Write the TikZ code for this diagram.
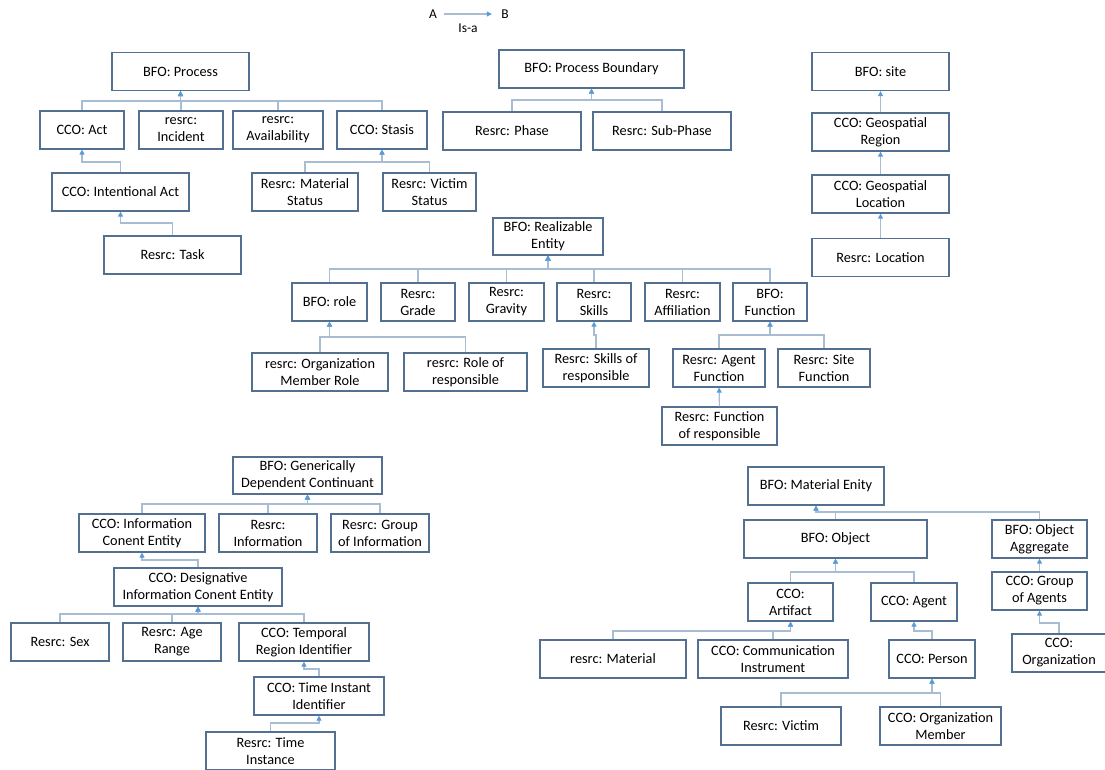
\documentclass[tikz,border=0pt]{standalone}
\usepackage{fontspec}
\setmainfont{Carlito}
\usepackage{tikz}
\usetikzlibrary{arrows.meta}
\definecolor{boxline}{RGB}{84,112,144}
\definecolor{linkline}{RGB}{168,188,210}
\definecolor{tipblue}{RGB}{91,155,213}

\begin{document}
\begin{tikzpicture}[x=1pt, y=-1pt,
    block/.style={draw=boxline, line width=1.2pt, rectangle, minimum height=38pt, align=center, inner sep=1pt, font=\fontsize{14.3}{17}\selectfont},
    isa/.style={draw=linkline, line width=1.1pt, -{Triangle[length=5pt,width=5pt,color=tipblue]}},
    legend/.style={font=\fontsize{13.5}{16}\selectfont}]

    \useasboundingbox (0,0) rectangle (1105,769);
    \clip (0,0) rectangle (1105,769);

    % Legende
    \node[legend] (lega) at (433,14) {A};
    \node[legend] (legb) at (505,14) {B};
    \draw[isa, shorten <=4pt, shorten >=6pt] (lega.east) -- (legb.west);
    \node[legend] (isalabel) at (468,28) {Is-a};

    % Process
    \node[block, minimum width=137pt] (process) at (180.5,71.5) {BFO: Process};
    \node[block, minimum width=84pt] (act) at (82,130) {CCO: Act};
    \node[block, minimum width=84pt] (incident) at (181,130) {resrc:\\Incident};
    \node[block, minimum width=90pt] (availability) at (278,130) {resrc:\\Availability};
    \node[block, minimum width=90pt] (stasis) at (382,130) {CCO: Stasis};
    \node[block, minimum width=137pt] (intact) at (120.5,192) {CCO: Intentional Act};
    \node[block, minimum width=137pt] (task) at (172.5,255) {Resrc: Task};
    \node[block, minimum width=106pt] (matstatus) at (305,192) {Resrc: Material\\Status};
    \node[block, minimum width=93pt] (vicstatus) at (429.5,192) {Resrc: Victim\\Status};

    % Process Boundary
    \node[block, minimum width=185pt] (boundary) at (591.5,69) {BFO: Process Boundary};
    \node[block, minimum width=138pt] (phase) at (512,131) {Resrc: Phase};
    \node[block, minimum width=138pt] (subphase) at (662,131) {Resrc: Sub-Phase};

    % Site
    \node[block, minimum width=137pt] (site) at (880.5,71.5) {BFO: site};
    \node[block, minimum width=137pt] (georegion) at (880.5,132) {CCO: Geospatial\\Region};
    \node[block, minimum width=137pt] (geolocation) at (880.5,194) {CCO: Geospatial\\Location};
    \node[block, minimum width=137pt] (location) at (880.5,257.5) {Resrc: Location};

    % Realizable Entity
    \node[block, minimum width=110pt, minimum height=37pt] (realizable) at (548,236.5) {BFO: Realizable\\Entity};
    \node[block, minimum width=75pt] (role) at (329.5,302) {BFO: role};
    \node[block, minimum width=74pt] (grade) at (418,302) {Resrc:\\Grade};
    \node[block, minimum width=75pt] (gravity) at (506.5,302) {Resrc:\\Gravity};
    \node[block, minimum width=74pt] (skills) at (594,302) {Resrc:\\Skills};
    \node[block, minimum width=75pt] (affiliation) at (682.5,302) {Resrc:\\Affiliation};
    \node[block, minimum width=74pt] (function) at (770,302) {BFO:\\Function};
    \node[block, minimum width=136pt] (orgmemrole) at (320,372) {resrc: Organization\\Member Role};
    \node[block, minimum width=123pt] (roleresp) at (465.5,372) {resrc: Role of\\responsible};
    \node[block, minimum width=106pt] (skillsresp) at (596,368) {Resrc: Skills of\\responsible};
    \node[block, minimum width=92pt] (agentfunc) at (719,368) {Resrc: Agent\\Function};
    \node[block, minimum width=92pt] (sitefunc) at (824,368) {Resrc: Site\\Function};
    \node[block, minimum width=115pt] (funcresp) at (719.5,426) {Resrc: Function\\of responsible};

    % Generically Dependent Continuant
    \node[block, minimum width=149pt, minimum height=37pt] (gdc) at (307.5,475.5) {BFO: Generically\\Dependent Continuant};
    \node[block, minimum width=126pt] (ice) at (142,533) {CCO: Information\\Conent Entity};
    \node[block, minimum width=98pt] (information) at (268,533) {Resrc:\\Information};
    \node[block, minimum width=98pt] (groupinfo) at (380,533) {Resrc: Group\\of Information};
    \node[block, minimum width=168pt] (dice) at (198,587) {CCO: Designative\\Information Conent Entity};
    \node[block, minimum width=98pt] (sex) at (60,642) {Resrc: Sex};
    \node[block, minimum width=98pt] (agerange) at (172,642) {Resrc: Age\\Range};
    \node[block, minimum width=130pt] (tri) at (304,642) {CCO: Temporal\\Region Identifier};
    \node[block, minimum width=130pt] (tii) at (319,696) {CCO: Time Instant\\Identifier};
    \node[block, minimum width=129pt] (timeinst) at (270.5,751) {Resrc: Time\\Instance};

    % Material Entity
    \node[block, minimum width=136pt] (material) at (816,486) {BFO: Material Enity};
    \node[block, minimum width=183pt] (object) at (835.5,539) {BFO: Object};
    \node[block, minimum width=95pt] (objagg) at (1039.5,539) {BFO: Object\\Aggregate};
    \node[block, minimum width=95pt] (groupagents) at (1039.5,591) {CCO: Group\\of Agents};
    \node[block, minimum width=85pt] (artifact) at (790.5,602) {CCO:\\Artifact};
    \node[block, minimum width=86pt] (agent) at (914,602) {CCO: Agent};
    \node[block, minimum width=146pt] (resmaterial) at (613,659) {resrc: Material};
    \node[block, minimum width=150pt] (comminst) at (773,659) {CCO: Communication\\Instrument};
    \node[block, minimum width=86pt] (person) at (932,659) {CCO: Person};
    \node[block, minimum width=120pt] (victim) at (781,726) {Resrc: Victim};
    \node[block, minimum width=121pt] (orgmember) at (940.5,726) {CCO: Organization\\Member};
    \node[block, minimum width=94pt] (organization) at (1059,653) {CCO:\\Organization};

    % Liens Is-a
    \draw[isa] (act.north) -- (act.north |- 0,101) -| (process.south);
    \draw[isa] (incident.north) -- (incident.north |- 0,101) -| (process.south);
    \draw[isa] (availability.north) -- (availability.north |- 0,101) -| (process.south);
    \draw[isa] (stasis.north) -- (stasis.north |- 0,101) -| (process.south);
    \draw[isa] (intact.north) -- (intact.north |- 0,162) -| (act.south);
    \draw[isa] (task.north) -- (task.north |- 0,223) -| (intact.south);
    \draw[isa] (matstatus.north) -- (matstatus.north |- 0,162) -| (stasis.south);
    \draw[isa] (vicstatus.north) -- (vicstatus.north |- 0,162) -| (stasis.south);

    \draw[isa] (phase.north) -- (phase.north |- 0,100) -| (boundary.south);
    \draw[isa] (subphase.north) -- (subphase.north |- 0,100) -| (boundary.south);

    \draw[isa] (georegion) -- (site);
    \draw[isa] (geolocation) -- (georegion);
    \draw[isa] (location) -- (geolocation);

    \draw[isa] (role.north) -- (role.north |- 0,269) -| (realizable.south);
    \draw[isa] (grade.north) -- (grade.north |- 0,269) -| (realizable.south);
    \draw[isa] (gravity.north) -- (gravity.north |- 0,269) -| (realizable.south);
    \draw[isa] (skills.north) -- (skills.north |- 0,269) -| (realizable.south);
    \draw[isa] (affiliation.north) -- (affiliation.north |- 0,269) -| (realizable.south);
    \draw[isa] (function.north) -- (function.north |- 0,269) -| (realizable.south);
    \draw[isa] (orgmemrole.north) -- (orgmemrole.north |- 0,337) -| (role.south);
    \draw[isa] (roleresp.north) -- (roleresp.north |- 0,337) -| (role.south);
    \draw[isa] (skillsresp.north) -- (skillsresp.north |- 0,335) -| (skills.south);
    \draw[isa] (agentfunc.north) -- (agentfunc.north |- 0,335) -| (function.south);
    \draw[isa] (sitefunc.north) -- (sitefunc.north |- 0,335) -| (function.south);
    \draw[isa] (funcresp) -- (agentfunc);

    \draw[isa] (ice.north) -- (ice.north |- 0,504) -| (gdc.south);
    \draw[isa] (information.north) -- (information.north |- 0,504) -| (gdc.south);
    \draw[isa] (groupinfo.north) -- (groupinfo.north |- 0,504) -| (gdc.south);
    \draw[isa] (dice.north) -- (dice.north |- 0,560) -| (ice.south);
    \draw[isa] (sex.north) -- (sex.north |- 0,614) -| (dice.south);
    \draw[isa] (agerange.north) -- (agerange.north |- 0,614) -| (dice.south);
    \draw[isa] (tri.north) -- (tri.north |- 0,614) -| (dice.south);
    \draw[isa] (tii.north) -- (tii.north |- 0,669) -| (tri.south);
    \draw[isa] (timeinst.north) -- (timeinst.north |- 0,723) -| (tii.south);

    \draw[isa] (object.north) -- (object.north |- 0,512) -| (material.south);
    \draw[isa] (objagg.north) -- (objagg.north |- 0,512) -| (material.south);
    \draw[isa] (groupagents) -- (objagg);
    \draw[isa] (organization.north) -- (organization.north |- 0,623) -| (groupagents.south);
    \draw[isa] (artifact.north) -- (artifact.north |- 0,572) -| (object.south);
    \draw[isa] (agent.north) -- (agent.north |- 0,572) -| (object.south);
    \draw[isa] (resmaterial.north) -- (resmaterial.north |- 0,631) -| (artifact.south);
    \draw[isa] (comminst.north) -- (comminst.north |- 0,631) -| (artifact.south);
    \draw[isa] (person.north) -- (person.north |- 0,631) -| (agent.south);
    \draw[isa] (victim.north) -- (victim.north |- 0,693) -| (person.south);
    \draw[isa] (orgmember.north) -- (orgmember.north |- 0,693) -| (person.south);

\end{tikzpicture}
\end{document}
